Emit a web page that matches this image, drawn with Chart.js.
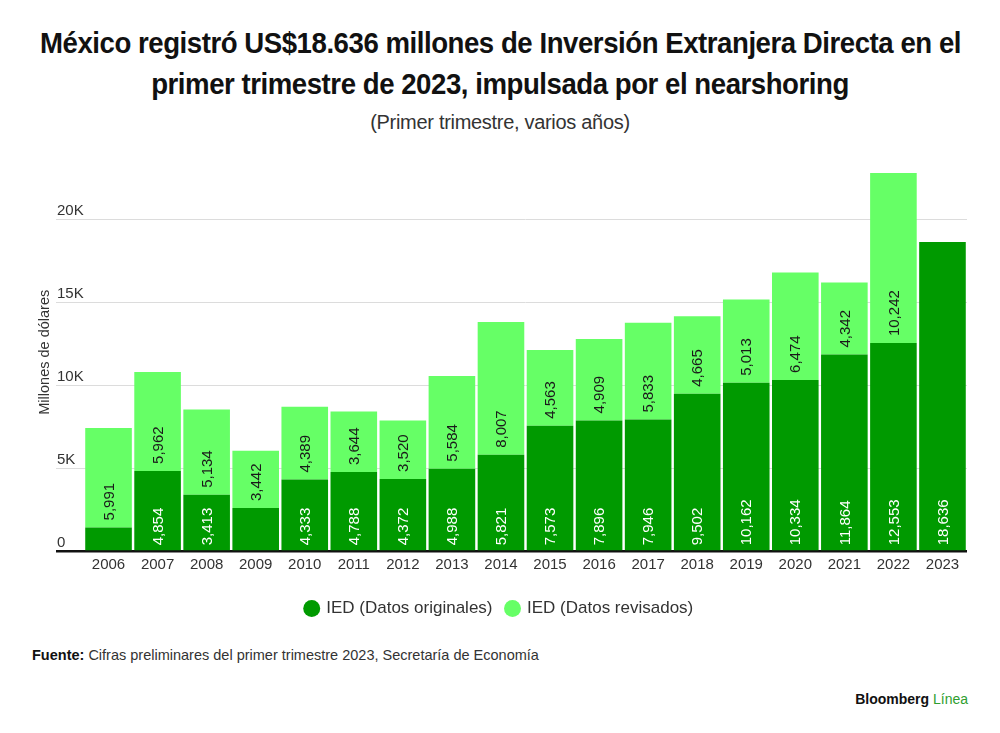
<!DOCTYPE html>
<html>
<head>
<meta charset="utf-8">
<script src="https://cdn.jsdelivr.net/npm/chart.js@4.4.0/dist/chart.umd.min.js"></script>
<style>
body{margin:0;background:#fff;width:1000px;height:733px;position:relative;overflow:hidden;font-family:"Liberation Sans",Arial,sans-serif;color:#222;}
#title{position:absolute;top:22px;left:0;width:1000px;text-align:center;white-space:nowrap;font-weight:bold;font-size:30px;line-height:41px;color:#111;letter-spacing:-0.5px;transform:scaleX(0.92);transform-origin:500px 0;}
#sub{position:absolute;top:111px;left:0;width:1000px;text-align:center;font-size:20px;color:#333;letter-spacing:-0.3px;}
#chartbox{position:absolute;left:0;top:140px;width:1000px;height:487px;}
#src{position:absolute;left:32px;top:647px;font-size:14.5px;color:#333;}
#src b{color:#111;}
#logo{position:absolute;right:32px;top:691px;font-size:14px;font-weight:bold;color:#111;}
#logo span{color:#2f9e2f;font-weight:normal;}
</style>
</head>
<body>
<div id="title">México registró US$18.636 millones de Inversión Extranjera Directa en el<br>primer trimestre de 2023, impulsada por el nearshoring</div>
<div id="sub">(Primer trimestre, varios años)</div>
<div id="chartbox"><canvas id="ied"></canvas></div>
<div id="src"><b>Fuente:</b> Cifras preliminares del primer trimestre 2023, Secretaría de Economía</div>
<div id="logo">Bloomberg <span>Línea</span></div>

<script>
let years = ["2006","2007","2008","2009","2010","2011","2012","2013","2014","2015","2016","2017","2018","2019","2020","2021","2022","2023"];

let originales = [1450,4854,3413,2620,4333,4788,4372,4988,5821,7573,7896,7946,9502,10162,10334,11864,12553,18636];

let revisados = [5991,5962,5134,3442,4389,3644,3520,5584,8007,4563,4909,5833,4665,5013,6474,4342,10242,null];

let yTicks = [0,5000,10000,15000,20000];


// numbers written up the bar, starting at the bottom of each segment
let barLabels = {
    id:"barLabels",
    afterDatasetsDraw:function(chart){
        let ctx = chart.ctx;
        chart.data.datasets.forEach(function(ds,i){
            let meta = chart.getDatasetMeta(i);
            meta.data.forEach(function(bar,j){
                let v = ds.data[j];
                if(v === null) return;
                let text = v.toLocaleString("en-US");
                ctx.save();
                ctx.font = '15px "Liberation Sans", Arial, sans-serif';
                let w = ctx.measureText(text).width;
                let pad = i === 0 ? 5 : 7;
                if(bar.base - bar.y < w + pad + 6){
                    ctx.restore();
                    return;
                }
                ctx.translate(bar.x, bar.base - pad);
                ctx.rotate(-Math.PI/2);
                ctx.fillStyle = i === 0 ? "#ffffff" : "#1a1a1a";
                ctx.textAlign = "left";
                ctx.textBaseline = "middle";
                ctx.fillText(text,0,1);
                ctx.restore();
            });
        });
    }
};


new Chart(document.getElementById("ied"),{
    type:"bar",
    data:{
        labels:years,
        datasets:[
            {
                label:"IED (Datos originales)",
                data:originales,
                backgroundColor:"#009a00",
                borderWidth:0,
                barPercentage:0.95,
                categoryPercentage:1
            },
            {
                label:"IED (Datos revisados)",
                data:revisados,
                backgroundColor:"#66ff66",
                borderWidth:0,
                barPercentage:0.95,
                categoryPercentage:1
            }
        ]
    },
    options:{
        responsive:true,
        maintainAspectRatio:false,
        animation:false,
        layout:{padding:{top:13,left:32,right:33,bottom:0}},
        plugins:{
            title:{display:false},
            tooltip:{enabled:false},
            legend:{
                position:"bottom",
                labels:{
                    usePointStyle:true,
                    pointStyle:"circle",
                    boxWidth:12,
                    boxHeight:12,
                    padding:14,
                    color:"#333",
                    font:{size:17,family:'"Liberation Sans", Arial, sans-serif'}
                }
            }
        },
        scales:{
            x:{
                stacked:true,
                grid:{display:false,drawTicks:false},
                border:{display:false},
                ticks:{
                    color:"#333",
                    padding:4,
                    font:{size:15,family:'"Liberation Sans", Arial, sans-serif'}
                },
                afterFit:function(scale){
                    scale.height = 34.5;
                }
            },
            y:{
                stacked:true,
                min:0,
                max:24000,
                border:{display:false},
                grid:{
                    tickLength:28,
                    color:function(c){
                        return c.tick && c.tick.value === 0 ? "#111" : "#dcdcdc";
                    },
                    lineWidth:function(c){
                        return c.tick && c.tick.value === 0 ? 2.5 : 1;
                    }
                },
                afterBuildTicks:function(scale){
                    scale.ticks = yTicks.map(function(v){ return {value:v}; });
                },
                ticks:{
                    mirror:true,
                    padding:-27,
                    labelOffset:-9,
                    color:"#333",
                    font:{size:15,family:'"Liberation Sans", Arial, sans-serif'},
                    callback:function(v){
                        return v === 0 ? "0" : (v/1000) + "K";
                    }
                },
                title:{
                    display:true,
                    text:"Millones de dólares",
                    color:"#333",
                    font:{size:14.5,family:'"Liberation Sans", Arial, sans-serif'}
                },
                afterFit:function(scale){
                    scale.width = 52;
                }
            }
        }
    },
    plugins:[barLabels]
});
</script>
</body>
</html>
